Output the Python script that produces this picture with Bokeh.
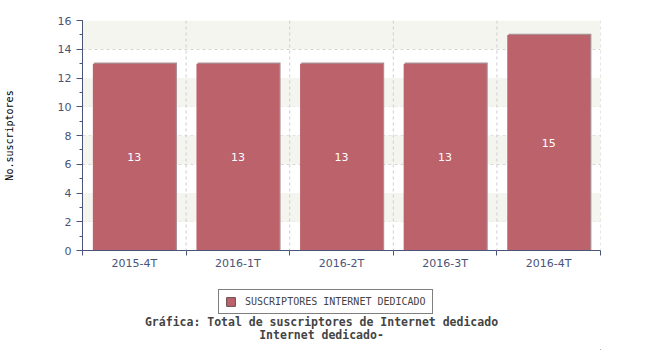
from bokeh.plotting import figure
from bokeh.layouts import column
from bokeh.models import (ColumnDataSource, Legend, LegendItem, Label, BoxAnnotation,
                          FixedTicker, Span)
from bokeh.core.properties import value
from bokeh.embed import file_html
from bokeh.resources import INLINE

categories = ["2015-4T", "2016-1T", "2016-2T", "2016-3T", "2016-4T"]
values = [13, 13, 13, 13, 15]
series_name = "SUSCRIPTORES INTERNET DEDICADO"
y_label = "No.suscriptores"
title1 = "Gráfica: Total de suscriptores de Internet dedicado"
title2 = "Internet dedicado-"

AXIS = "#4a5478"
BAR = "#bc626b"
MONO = "DejaVu Sans Mono"

n = len(categories)
centers = [i + 0.5 for i in range(n)]
src = ColumnDataSource(dict(x=centers, xs=[c + 0.012 for c in centers], val=values,
                            shadow=[v + 0.08 for v in values],
                            half=[v / 2 for v in values],
                            txt=[str(v) for v in values]))

p = figure(width=650, height=272, x_range=(0, n), y_range=(0, 16),
           output_backend="svg", toolbar_location=None,
           min_border_left=81, min_border_right=50, min_border_top=20, min_border_bottom=22)
p.outline_line_color = None
p.background_fill_color = "white"

# alternating bands
for b in (2, 6, 10, 14):
    p.add_layout(BoxAnnotation(bottom=b, top=b + 2, fill_color="#f5f5f0", fill_alpha=1,
                               line_color=None, level="underlay"))

p.ygrid.ticker = FixedTicker(ticks=[2, 4, 6, 8, 10, 12, 14, 16])
p.ygrid.grid_line_color = "#cccccc"
p.ygrid.grid_line_dash = "3 3"
p.xgrid.grid_line_color = None
for i in range(1, n + 1):
    p.add_layout(Span(location=i, dimension="height", line_color="#cccccc",
                      line_dash="3 3", line_width=1))

# shadow then bars
p.vbar(x="xs", top="shadow", width=0.80, source=src, fill_color="#a89095", line_color=None)
r = p.vbar(x="x", top="val", width=0.80, source=src, fill_color=BAR, line_color=None)
p.text(x="x", y="half", text="txt", source=src, text_color="white",
       text_font=value("DejaVu Sans"), text_font_size="11px",
       text_align="center", text_baseline="middle")

# x axis: labels at category centres, tick marks at category boundaries
xa = p.xaxis[0]
xa.ticker = FixedTicker(ticks=centers, minor_ticks=list(range(0, n + 1)))
xa.major_label_overrides = {c: cat for c, cat in zip(centers, categories)}
xa.axis_line_color = AXIS
xa.major_tick_line_color = None
xa.major_tick_out = 0
xa.major_tick_in = 0
xa.minor_tick_line_color = AXIS
xa.minor_tick_out = 5
xa.minor_tick_in = 0
xa.major_label_text_color = AXIS
xa.major_label_text_font = "DejaVu Sans"
xa.major_label_text_font_size = "11px"
xa.major_label_standoff = 1

p.yaxis.ticker = FixedTicker(ticks=list(range(0, 17, 2)), minor_ticks=list(range(0, 17)))
ya = p.yaxis[0]
ya.axis_line_color = AXIS
ya.major_tick_line_color = AXIS
ya.minor_tick_line_color = AXIS
ya.major_label_text_color = AXIS
ya.major_label_text_font = "DejaVu Sans"
ya.major_label_text_font_size = "11px"
ya.major_tick_out = 6
ya.major_tick_in = 0
ya.minor_tick_out = 3
ya.minor_tick_in = 0
ya.axis_label = y_label
ya.axis_label_text_font = MONO
ya.axis_label_text_font_style = "normal"
ya.axis_label_text_font_size = "10px"
ya.axis_label_text_color = "black"
ya.axis_label_standoff = 40

# bottom panel: legend and titles
q = figure(width=650, height=78, x_range=(0, 569), y_range=(0, 78),
           output_backend="svg", toolbar_location=None,
           min_border=0, min_border_left=81, min_border_right=0,
           x_axis_location=None, y_axis_location=None)
q.outline_line_color = None
q.grid.visible = False
dummy = q.vbar(x=[5000], top=[1], width=1, fill_color=BAR, line_color="#6b4a50")

legend = Legend(items=[LegendItem(label=series_name, renderers=[dummy])],
                location=(136, 36), orientation="horizontal",
                label_text_font=MONO, label_text_font_size="10px",
                border_line_color="black", border_line_width=1,
                glyph_width=11, glyph_height=11, padding=6, label_standoff=9,
                label_height=11, margin=0, background_fill_color="white")
q.add_layout(legend, "center")

q.add_layout(Label(x=239, y=22, x_units="screen", y_units="screen", text=title1,
                   text_font=MONO, text_font_style="bold", text_font_size="11.5px",
                   text_align="center"))
q.add_layout(Label(x=239, y=9, x_units="screen", y_units="screen", text=title2,
                   text_font=MONO, text_font_style="bold", text_font_size="11.5px",
                   text_align="center"))

open("out.html", "w").write(file_html(column(p, q, spacing=0), INLINE))
